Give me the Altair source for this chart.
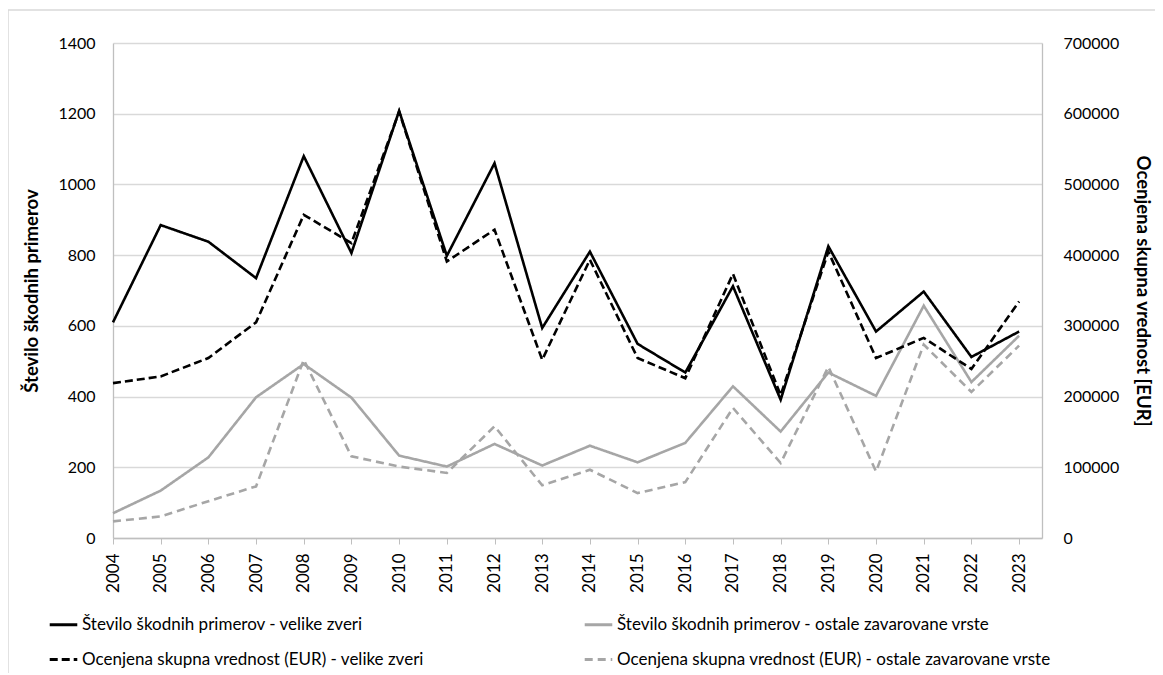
import altair as alt
import pandas as pd

years = list(range(2004, 2024))
count_large = [610, 885, 838, 735, 1080, 806, 1208, 798, 1060, 594, 810, 549, 468, 712, 391, 825, 584, 697, 512, 584]
count_other = [70, 134, 228, 398, 492, 397, 233, 202, 266, 205, 261, 214, 269, 429, 301, 468, 402, 657, 441, 572]
eur_large = [219000, 228500, 254500, 305000, 457000, 417000, 603000, 391000, 436000, 252000, 393500, 254500,
             226000, 373500, 202000, 405000, 254500, 283000, 239000, 334500]
eur_other = [23500, 30500, 52000, 73000, 252000, 115500, 101000, 92000, 158000, 74500, 96500, 63500,
             79000, 184000, 106000, 242000, 94000, 273500, 206500, 272000]

S1 = "Število škodnih primerov - velike zveri"
S2 = "Število škodnih primerov - ostale zavarovane vrste"
S3 = "Ocenjena skupna vrednost (EUR) - velike zveri"
S4 = "Ocenjena skupna vrednost (EUR) - ostale zavarovane vrste"
# legend fills column by column: column 1 = S1, S3 ; column 2 = S2, S4
series_names = [S1, S3, S2, S4]
series_colors = ["#000000", "#000000", "#a6a6a6", "#a6a6a6"]
series_dash = [[1, 0], [8, 4], [1, 0], [8, 5]]

df_count = pd.concat([
    pd.DataFrame({"year": years, "value": count_large, "series": S1}),
    pd.DataFrame({"year": years, "value": count_other, "series": S2}),
])
df_eur = pd.concat([
    pd.DataFrame({"year": years, "value": eur_large, "series": S3}),
    pd.DataFrame({"year": years, "value": eur_other, "series": S4}),
])

FONT = "Lato"
legend = alt.Legend(
    title=None, orient="none", legendX=-65, legendY=566, columns=2,
    columnPadding=153, rowPadding=11, symbolType="stroke", symbolSize=760,
    symbolStrokeWidth=3, labelFontSize=17, labelFont=FONT, labelColor="#000000",
    labelLimit=700, labelOffset=3,
)
color = alt.Color("series:N", scale=alt.Scale(domain=series_names, range=series_colors), legend=legend)
dash = alt.StrokeDash("series:N", scale=alt.Scale(domain=series_names, range=series_dash), legend=legend)

x_enc = alt.X(
    "year:Q",
    scale=alt.Scale(domain=[2004, 2023.48], nice=False, zero=False),
    axis=alt.Axis(values=years, format="d", labelAngle=270, title=None, grid=False,
                  tickSize=6, labelPadding=9, tickColor="#bfbfbf", domainColor="#bfbfbf",
                  labelFontSize=17),
)

left = alt.Chart(df_count).mark_line(strokeWidth=2.6).encode(
    x=x_enc,
    y=alt.Y("value:Q", scale=alt.Scale(domain=[0, 1400], nice=False),
            axis=alt.Axis(values=list(range(0, 1401, 200)), format="d",
                          title="Število škodnih primerov", grid=True, ticks=False,
                          labelPadding=18, titlePadding=16, domainColor="#bfbfbf")),
    color=color,
    strokeDash=dash,
    order=alt.Order("year:Q"),
)

right = alt.Chart(df_eur).mark_line(strokeWidth=2.6).encode(
    x=x_enc,
    y=alt.Y("value:Q", scale=alt.Scale(domain=[0, 700000], nice=False),
            axis=alt.Axis(values=list(range(0, 700001, 100000)), format="d", orient="right",
                          title="Ocenjena skupna vrednost [EUR]", grid=False, ticks=False,
                          labelPadding=21, titlePadding=14, domainColor="#bfbfbf")),
    color=color,
    strokeDash=dash,
    order=alt.Order("year:Q"),
)

frame = alt.Chart(alt.Data(values=[{}])).mark_rect(
    fill=None, stroke="#d9d9d9", strokeWidth=1.5, clip=False
).encode(
    x=alt.value(-105), x2=alt.value(1080), y=alt.value(-33), y2=alt.value(680)
)

chart = alt.layer(frame, left, right).resolve_scale(y="independent").properties(
    width=929, height=495,
    autosize=alt.AutoSizeParams(type="none"),
    padding={"left": 105, "top": 35, "right": 113, "bottom": 135},
).configure_axis(
    labelFont=FONT, titleFont=FONT, labelFontSize=16, titleFontSize=18.5,
    labelColor="#000000", titleColor="#000000", titleFontWeight="bold",
    gridColor="#d9d9d9", gridWidth=1.3, domainWidth=1.3,
).configure_view(stroke=None)

chart.save("out.html", embed_options={"renderer": "svg", "actions": False})
